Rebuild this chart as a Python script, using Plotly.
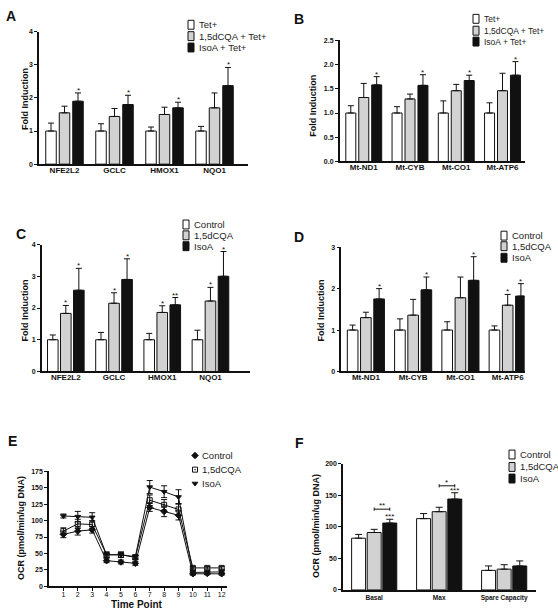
import plotly.graph_objects as go

W, H = 558, 615
FONT = "Liberation Sans"
WHITE, GRAY, BLACK = "#ffffff", "#d2d2d2", "#111111"

def px(x):
    return x / W

def py(y):
    return 1 - y / H

# ---------------- data ----------------
genes_nrf = ["NFE2L2", "GCLC", "HMOX1", "NQO1"]
genes_mt = ["Mt-ND1", "Mt-CYB", "Mt-CO1", "Mt-ATP6"]

# Panel A
a_tet = [1.0, 1.0, 1.0, 1.0]
a_tet_err = [0.24, 0.22, 0.12, 0.14]
a_cqa = [1.55, 1.44, 1.50, 1.70]
a_cqa_err = [0.20, 0.24, 0.22, 0.45]
a_iso = [1.90, 1.80, 1.70, 2.37]
a_iso_err = [0.25, 0.28, 0.17, 0.55]
a_stars = [["", "", "", ""], ["", "", "", ""], ["*", "*", "*", "*"]]

# Panel B
b_tet = [1.0, 1.0, 1.0, 1.0]
b_tet_err = [0.15, 0.13, 0.25, 0.21]
b_cqa = [1.32, 1.29, 1.46, 1.46]
b_cqa_err = [0.29, 0.10, 0.13, 0.36]
b_iso = [1.58, 1.57, 1.67, 1.78]
b_iso_err = [0.17, 0.22, 0.11, 0.28]
b_stars = [["", "", "", ""], ["", "", "", ""], ["*", "*", "*", "*"]]

# Panel C
c_ctl = [1.0, 1.0, 1.0, 1.0]
c_ctl_err = [0.15, 0.23, 0.20, 0.30]
c_cqa = [1.83, 2.15, 1.86, 2.22]
c_cqa_err = [0.25, 0.33, 0.21, 0.43]
c_iso = [2.56, 2.90, 2.10, 3.00]
c_iso_err = [0.69, 0.65, 0.23, 0.78]
c_stars = [["", "", "", ""], ["*", "*", "*", "*"], ["*", "*", "**", "*"]]

# Panel D
d_ctl = [1.0, 1.0, 1.0, 1.0]
d_ctl_err = [0.12, 0.27, 0.20, 0.10]
d_cqa = [1.30, 1.36, 1.78, 1.60]
d_cqa_err = [0.13, 0.38, 0.50, 0.26]
d_iso = [1.75, 1.97, 2.20, 1.82]
d_iso_err = [0.25, 0.31, 0.57, 0.30]
d_stars = [["", "", "", ""], ["", "", "", "*"], ["*", "*", "*", "*"]]

# Panel E
time_points = [1, 2, 3, 4, 5, 6, 7, 8, 9, 10, 11, 12]
e_ctl = [79, 84, 86, 39, 37, 35, 120, 114, 108, 19, 19.5, 19]
e_ctl_err = [5, 6, 5, 3, 3, 3, 6, 8, 7, 2, 2, 2]
e_cqa = [84, 95, 94, 48, 48, 44, 131, 124, 117, 28, 28, 28]
e_cqa_err = [5, 7, 6, 4, 4, 3, 8, 8, 9, 2, 2, 2]
e_iso = [107, 106, 105, 48, 48, 45, 151, 144, 136, 21, 21, 22]
e_iso_err = [3, 8, 7, 4, 4, 3, 10, 9, 11, 3, 3, 3]

# Panel F
f_cats = ["Basal", "Max", "Spare Capacity"]
f_ctl = [82, 113, 31]
f_ctl_err = [6, 8, 7]
f_cqa = [91, 124, 33]
f_cqa_err = [5, 7, 7]
f_iso = [106, 144, 38]
f_iso_err = [6, 10, 8]
f_stars = [["", "", ""], ["", "", ""], ["***", "***", ""]]
f_brackets = [("Basal", 128, "**"), ("Max", 165, "*")]

legend_tet = ["Tet+", "1,5dCQA + Tet+", "IsoA + Tet+"]
legend_ctl = ["Control", "1,5dCQA", "IsoA"]

# ---------------- figure ----------------
fig = go.Figure()
annotations = []
shapes = []
layout = {}


def refs(n):
    return ("x", "y") if n == 1 else (f"x{n}", f"y{n}")


def keys(n):
    return ("xaxis", "yaxis") if n == 1 else (f"xaxis{n}", f"yaxis{n}")


def yaxis_style(xref, ydom, yrange, dtick, fmt):
    return dict(domain=[py(ydom[0]), py(ydom[1])], range=yrange, anchor=xref,
                showline=True, linewidth=1.5, linecolor=BLACK, ticks="outside",
                ticklen=3, tickwidth=1.2, tickcolor=BLACK, dtick=dtick, tick0=0,
                tickformat=fmt, showgrid=False, zeroline=False, fixedrange=True,
                tickfont=dict(family=FONT, size=7, color=BLACK, weight="bold"))


def bar_panel(n, cats, series, w, pitch, xdom, xrange, ydom, yrange, dtick, fmt,
              stars, catsize=8, capw=3, standoff=-3):
    xr, yr = refs(n)
    xk, yk = keys(n)
    for i, (vals, errs, color) in enumerate(series):
        fig.add_trace(go.Bar(
            x=cats, y=vals, width=w, offset=(i - 1) * pitch - w / 2,
            marker=dict(color=color, line=dict(color=BLACK, width=1)),
            error_y=dict(type="data", array=errs, arrayminus=[0] * len(errs),
                         symmetric=False, color=BLACK, thickness=1, width=capw),
            xaxis=xr, yaxis=yr, showlegend=False, hoverinfo="skip"))
        for j, s in enumerate(stars[i]):
            if s:
                annotations.append(dict(
                    x=j + (i - 1) * pitch, y=vals[j] + errs[j], xref=xr, yref=yr,
                    text=s, showarrow=False, yanchor="bottom", yshift=-4,
                    font=dict(family=FONT, size=8, color=BLACK)))
    layout[xk] = dict(domain=[px(xdom[0]), px(xdom[1])], range=xrange, anchor=yr,
                      type="category", showline=True, linewidth=1.5, linecolor=BLACK,
                      ticks="", showgrid=False, zeroline=False, fixedrange=True,
                      ticklabelstandoff=standoff,
                      tickfont=dict(family=FONT, size=catsize, color=BLACK, weight="bold"))
    layout[yk] = yaxis_style(xr, ydom, yrange, dtick, fmt)


bar_panel(1, genes_nrf,
          [(a_tet, a_tet_err, WHITE), (a_cqa, a_cqa_err, GRAY), (a_iso, a_iso_err, BLACK)],
          0.21, 0.27, (39, 248), [-0.51, 3.67], (162, 28), [0, 4], 1, "d", a_stars)
bar_panel(2, genes_mt,
          [(b_tet, b_tet_err, WHITE), (b_cqa, b_cqa_err, GRAY), (b_iso, b_iso_err, BLACK)],
          0.216, 0.28, (339.7, 524.7), [-0.52, 3.48], (159.3, 36.7), [0, 2.5], 0.5, ".1f", b_stars)
bar_panel(3, genes_nrf,
          [(c_ctl, c_ctl_err, WHITE), (c_cqa, c_cqa_err, GRAY), (c_iso, c_iso_err, BLACK)],
          0.22, 0.27, (41.7, 250), [-0.5, 3.82], (371.7, 243.3), [0, 4], 1, "d", c_stars)
bar_panel(4, genes_mt,
          [(d_ctl, d_ctl_err, WHITE), (d_cqa, d_cqa_err, GRAY), (d_iso, d_iso_err, BLACK)],
          0.225, 0.28, (341.3, 524.7), [-0.52, 3.36], (371.7, 246), [0, 3], 1, "d", d_stars)
bar_panel(6, f_cats,
          [(f_ctl, f_ctl_err, WHITE), (f_cqa, f_cqa_err, GRAY), (f_iso, f_iso_err, BLACK)],
          0.215, 0.24, (343, 536), [-0.48, 2.49], (592.7, 465), [0, 200], 50, "d", f_stars,
          catsize=6.5, capw=3.5, standoff=0)

# F brackets
for cat, yv, lab in f_brackets:
    j = f_cats.index(cat)
    x0, x1 = j, j + 0.24
    shapes.append(dict(type="line", xref="x6", yref="y6", x0=x0, x1=x1, y0=yv, y1=yv,
                       line=dict(color=BLACK, width=1)))
    for xx in (x0, x1):
        shapes.append(dict(type="line", xref="x6", yref="y6", x0=xx, x1=xx,
                           y0=yv - 2.5, y1=yv + 2.5, line=dict(color=BLACK, width=1)))
    annotations.append(dict(x=(x0 + x1) / 2, y=yv, xref="x6", yref="y6", text=lab,
                            showarrow=False, yanchor="bottom", yshift=-3,
                            font=dict(family=FONT, size=8, color=BLACK)))

# Panel E lines
e_series = [(e_ctl, e_ctl_err, "diamond"), (e_cqa, e_cqa_err, "square-open-dot"),
            (e_iso, e_iso_err, "triangle-down")]
for vals, errs, sym in e_series:
    fig.add_trace(go.Scatter(
        x=time_points, y=vals, mode="lines+markers", xaxis="x5", yaxis="y5",
        line=dict(color=BLACK, width=1),
        marker=dict(symbol=sym, size=5, color=BLACK, line=dict(color=BLACK, width=1)),
        error_y=dict(type="data", array=errs, color=BLACK, thickness=1, width=3),
        showlegend=False, hoverinfo="skip", cliponaxis=False))
layout["xaxis5"] = dict(domain=[px(49), px(226.7)], range=[0, 12.35], anchor="y5",
                        showline=True, linewidth=1.5, linecolor=BLACK, ticks="outside",
                        ticklen=3, tickwidth=1.2, tickcolor=BLACK, tickvals=time_points,
                        showgrid=False, zeroline=False, fixedrange=True,
                        ticklabelstandoff=-2,
                        tickfont=dict(family=FONT, size=7, color=BLACK))
layout["yaxis5"] = yaxis_style("x5", (589, 472.7), [0, 175], 25, "d")

# hidden pixel-space axis for the E legend markers (small, transparent)
layout["xaxis7"] = dict(domain=[px(185), px(205)], range=[185, 205], visible=False,
                        fixedrange=True, anchor="y7")
layout["yaxis7"] = dict(domain=[py(495), py(447)], range=[495, 447], visible=False,
                        fixedrange=True, anchor="x7")
e_leg_y = [456.7, 471, 485]
for (vals, errs, sym), yy, lab in zip(e_series, e_leg_y, legend_ctl):
    fig.add_trace(go.Scatter(x=[195], y=[yy], mode="markers", xaxis="x7", yaxis="y7",
                             marker=dict(symbol=sym, size=5, color=BLACK,
                                         line=dict(color=BLACK, width=1)),
                             showlegend=False, hoverinfo="skip", cliponaxis=False))
    annotations.append(dict(x=px(200), y=py(yy), xref="paper", yref="paper", text=lab,
                            showarrow=False, xanchor="left", yanchor="middle",
                            font=dict(family=FONT, size=9.5, color="#222222")))

# bar legends (manual)
def bar_legend(x, ys, labels, size):
    for yy, lab, col in zip(ys, labels, [WHITE, GRAY, BLACK]):
        shapes.append(dict(type="rect", xref="paper", yref="paper",
                           x0=px(x), x1=px(x + 6), y0=py(yy + 4.5), y1=py(yy - 4.5),
                           fillcolor=col, line=dict(color=BLACK, width=1)))
        annotations.append(dict(x=px(x + 9), y=py(yy), xref="paper", yref="paper",
                                text=lab, showarrow=False, xanchor="left", yanchor="middle",
                                font=dict(family=FONT, size=size, color="#222222")))

bar_legend(188, [21, 32.5, 44], legend_tet, 9.5)
bar_legend(473, [15, 27, 38], legend_tet, 8.5)
bar_legend(183, [223, 234, 245], legend_ctl, 9.5)
bar_legend(501, [234.3, 245, 256.7], legend_ctl, 9.5)
bar_legend(509, [455.7, 468.3, 480], legend_ctl, 9.5)

# y-axis titles
ytitles = [("Fold Induction", 25, 96), ("Fold Induction", 313, 103),
           ("Fold Induction", 25, 310), ("Fold Induction", 321, 310),
           ("OCR (pmol/min/ug DNA)", 21, 530), ("OCR (pmol/min/ug DNA)", 316, 528)]
for txt, xx, yy in ytitles:
    annotations.append(dict(x=px(xx), y=py(yy), xref="paper", yref="paper",
                            text=f"<b>{txt}</b>", textangle=-90, showarrow=False,
                            xanchor="center", yanchor="middle",
                            font=dict(family=FONT, size=9, color=BLACK)))

annotations.append(dict(x=px(137), y=py(607.5), xref="paper", yref="paper",
                        text="<b>Time Point</b>", showarrow=False,
                        xanchor="center", yanchor="middle",
                        font=dict(family=FONT, size=10, color=BLACK)))

# panel letters
letters = [("A", 11, 12), ("B", 299, 15), ("C", 21, 233), ("D", 299, 236),
           ("E", 12, 442), ("F", 299, 444)]
for t, xx, yy in letters:
    annotations.append(dict(x=px(xx), y=py(yy), xref="paper", yref="paper",
                            text=f"<b>{t}</b>", showarrow=False,
                            xanchor="center", yanchor="middle",
                            font=dict(family=FONT, size=14, color=BLACK)))

fig.update_layout(width=W, height=H, autosize=False, margin=dict(l=0, r=0, t=0, b=0),
                  paper_bgcolor="white", plot_bgcolor="rgba(0,0,0,0)", barmode="overlay",
                  showlegend=False, annotations=annotations, shapes=shapes, **layout)

fig.write_html("out.html", config={"displayModeBar": False},
               post_script="document.body.style.margin='0';document.body.style.overflow='hidden';")
